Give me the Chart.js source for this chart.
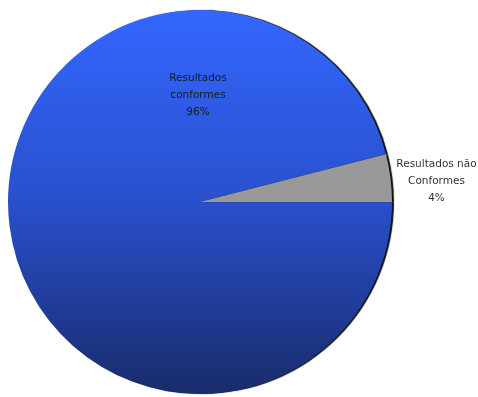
<!DOCTYPE html>
<html>
<head>
<meta charset="utf-8">
<script src="https://cdn.jsdelivr.net/npm/chart.js@4"></script>
<style>
  html, body { margin: 0; padding: 0; background: #fff; }
  canvas { display: block; }
</style>
</head>
<body>
<canvas id="pie" width="478" height="397"></canvas>
<script>
// Slice data
const labels = ['Resultados conformes', 'Resultados não Conformes'];
const labelLines = [['Resultados', 'conformes'], ['Resultados não', 'Conformes']];
const percents = [96, 4];

// Vertical blue gradient for the big slice, flat grey for the small one
function sliceFill(ctx) {
  if (ctx.dataIndex === 1) return '#999999';
  const area = ctx.chart.chartArea;
  if (!area) return '#2a52d6';
  const g = ctx.chart.ctx.createLinearGradient(0, area.top, 0, area.bottom);
  g.addColorStop(0, '#3467ff');
  g.addColorStop(0.5, '#2850cc');
  g.addColorStop(1, '#1a2b6c');
  return g;
}

// Dark edge shadow on the right of the pie
const pieShadow = {
  id: 'pieShadow',
  beforeDatasetsDraw(chart) {
    const c = chart.ctx;
    c.save();
    c.shadowColor = 'rgba(0,0,0,0.95)';
    c.shadowOffsetX = 2;
    c.shadowOffsetY = 0;
    c.shadowBlur = 1;
  },
  afterDatasetsDraw(chart) {
    chart.ctx.restore();
  }
};

// Text labels: inside for the big slice, outside for the small one
const sliceLabels = {
  id: 'sliceLabels',
  afterDraw(chart) {
    const c = chart.ctx;
    const arcs = chart.getDatasetMeta(0).data;
    c.save();
    c.font = '10.5px "DejaVu Sans"';
    c.textAlign = 'center';
    c.textBaseline = 'middle';
    const lh = 17;

    // big slice: placed in the upper part of the pie
    const a0 = arcs[0];
    const x0 = a0.x - 2;
    const y0 = a0.y - a0.outerRadius * 0.555;
    c.fillStyle = '#1a1a1a';
    const t0 = labelLines[0].concat(percents[0] + '%');
    t0.forEach((s, i) => c.fillText(s, x0, y0 + (i - 1) * lh));

    // small slice: outside the rim at its middle angle
    const a1 = arcs[1];
    const mid = (a1.startAngle + a1.endAngle) / 2;
    const ex = a1.x + Math.cos(mid) * a1.outerRadius;
    const ey = a1.y + Math.sin(mid) * a1.outerRadius;
    c.fillStyle = '#333';
    const t1 = labelLines[1].concat(percents[1] + '%');
    t1.forEach((s, i) => c.fillText(s, ex + 46, ey + 3 + (i - 1) * lh));
    c.restore();
  }
};

new Chart(document.getElementById('pie'), {
  type: 'pie',
  data: {
    labels: labels,
    datasets: [{
      data: percents,
      backgroundColor: sliceFill,
      borderWidth: 0
    }]
  },
  options: {
    responsive: false,
    animation: false,
    rotation: 90,
    layout: { padding: { left: 7, right: 85, top: 10, bottom: 3 } },
    plugins: {
      legend: { display: false },
      tooltip: { enabled: false }
    }
  },
  plugins: [pieShadow, sliceLabels]
});
</script>
</body>
</html>
